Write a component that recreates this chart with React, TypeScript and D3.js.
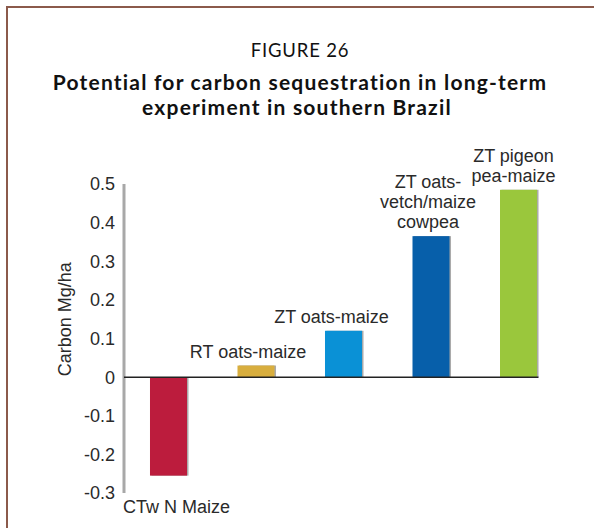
import React from "react";
import * as d3 from "d3";

const categories = ["CTw N Maize", "RT oats-maize", "ZT oats-maize", "ZT oats-vetch/maize cowpea", "ZT pigeon pea-maize"];
const values = [-0.255, 0.03, 0.12, 0.365, 0.485];
const labelLines = [["CTw N Maize"], ["RT oats-maize"], ["ZT oats-maize"], ["ZT oats-", "vetch/maize", "cowpea"], ["ZT pigeon", "pea-maize"]];
const colors = ["#BC1C3D", "#D8AE3E", "#0A91D6", "#075FAA", "#9AC73C"];
const yTicks = [0.5, 0.4, 0.3, 0.2, 0.1, 0, -0.1, -0.2, -0.3];
const tickLabels = ["0.5", "0.4", "0.3", "0.2", "0.1", "0", "-0.1", "-0.2", "-0.3"];
const labelDx = [0, -8, -12, -3, -5];

const W = 594, H = 528;
const axisX = 124;
const narrow = "'Liberation Sans', Arial, sans-serif";
const titleFont = "Lato, 'Open Sans', sans-serif";
const titleX = 300;

export default function App() {
  const y = d3.scaleLinear().domain([-0.3, 0.5]).range([493, 184]);
  const x = d3.scaleBand<string>().domain(categories).range([axisX, 563]).paddingInner(0.577).paddingOuter(0.297);
  const bw = x.bandwidth();
  return (
    <svg width={W} height={H} style={{ position: "absolute", left: 0, top: 0 }}>
      <rect x={0} y={0} width={W} height={H} fill="#fff" />
      <path d={`M7,${H} V7 H${W}`} fill="none" stroke="#8B5A4B" strokeWidth={2} />
      <text x={titleX} y={57} textAnchor="middle" fontFamily={titleFont} fontSize={18.5} letterSpacing={0.8} fill="#111">FIGURE 26</text>
      <text x={titleX} y={90} textAnchor="middle" fontFamily={titleFont} fontSize={21} letterSpacing={1.2} fontWeight={700} fill="#111">Potential for carbon sequestration in long-term</text>
      <text x={titleX - 3} y={115} textAnchor="middle" fontFamily={titleFont} fontSize={21} letterSpacing={1.2} fontWeight={700} fill="#111">experiment in southern Brazil</text>

      <line x1={axisX} x2={axisX} y1={y(0.5)} y2={y(-0.3)} stroke="#A8A8A8" strokeWidth={3} />
      {yTicks.map((t, i) => (
        <text key={t} x={115} y={y(t)} dy="0.36em" textAnchor="end" fontFamily={narrow} fontSize={18} fill="#2a2a2a">{tickLabels[i]}</text>
      ))}
      <text transform={`translate(71,${y(0.15)}) rotate(-90)`} textAnchor="middle" fontFamily={narrow} fontSize={18} fill="#2a2a2a">Carbon Mg/ha</text>

      {categories.map((c, i) => {
        const v = values[i];
        const x0 = x(c)!;
        const top = y(Math.max(0, v));
        const h = Math.abs(y(v) - y(0));
        return (
          <g key={c}>
            <rect x={x0 + 1.5} y={top} width={bw} height={h} fill="#555" opacity={0.5} />
            <rect x={x0} y={top} width={bw} height={h} fill={colors[i]} />
          </g>
        );
      })}
      <line x1={axisX} x2={x(categories[4])! + bw + 1.5} y1={y(0)} y2={y(0)} stroke="#222" strokeWidth={1.5} />

      {categories.map((c, i) => {
        const v = values[i];
        const lines = labelLines[i];
        const cx = x(c)! + bw / 2 + labelDx[i];
        if (v < 0) {
          return (
            <text key={c} x={axisX - 1} y={513} fontFamily={narrow} fontSize={18} fill="#2a2a2a">{lines[0]}</text>
          );
        }
        const base = y(v) - 8;
        return (
          <text key={c} textAnchor="middle" fontFamily={narrow} fontSize={18} fill="#2a2a2a">
            {lines.map((l, j) => (
              <tspan key={j} x={cx} y={base - (lines.length - 1 - j) * 20}>{l}</tspan>
            ))}
          </text>
        );
      })}
    </svg>
  );
}
